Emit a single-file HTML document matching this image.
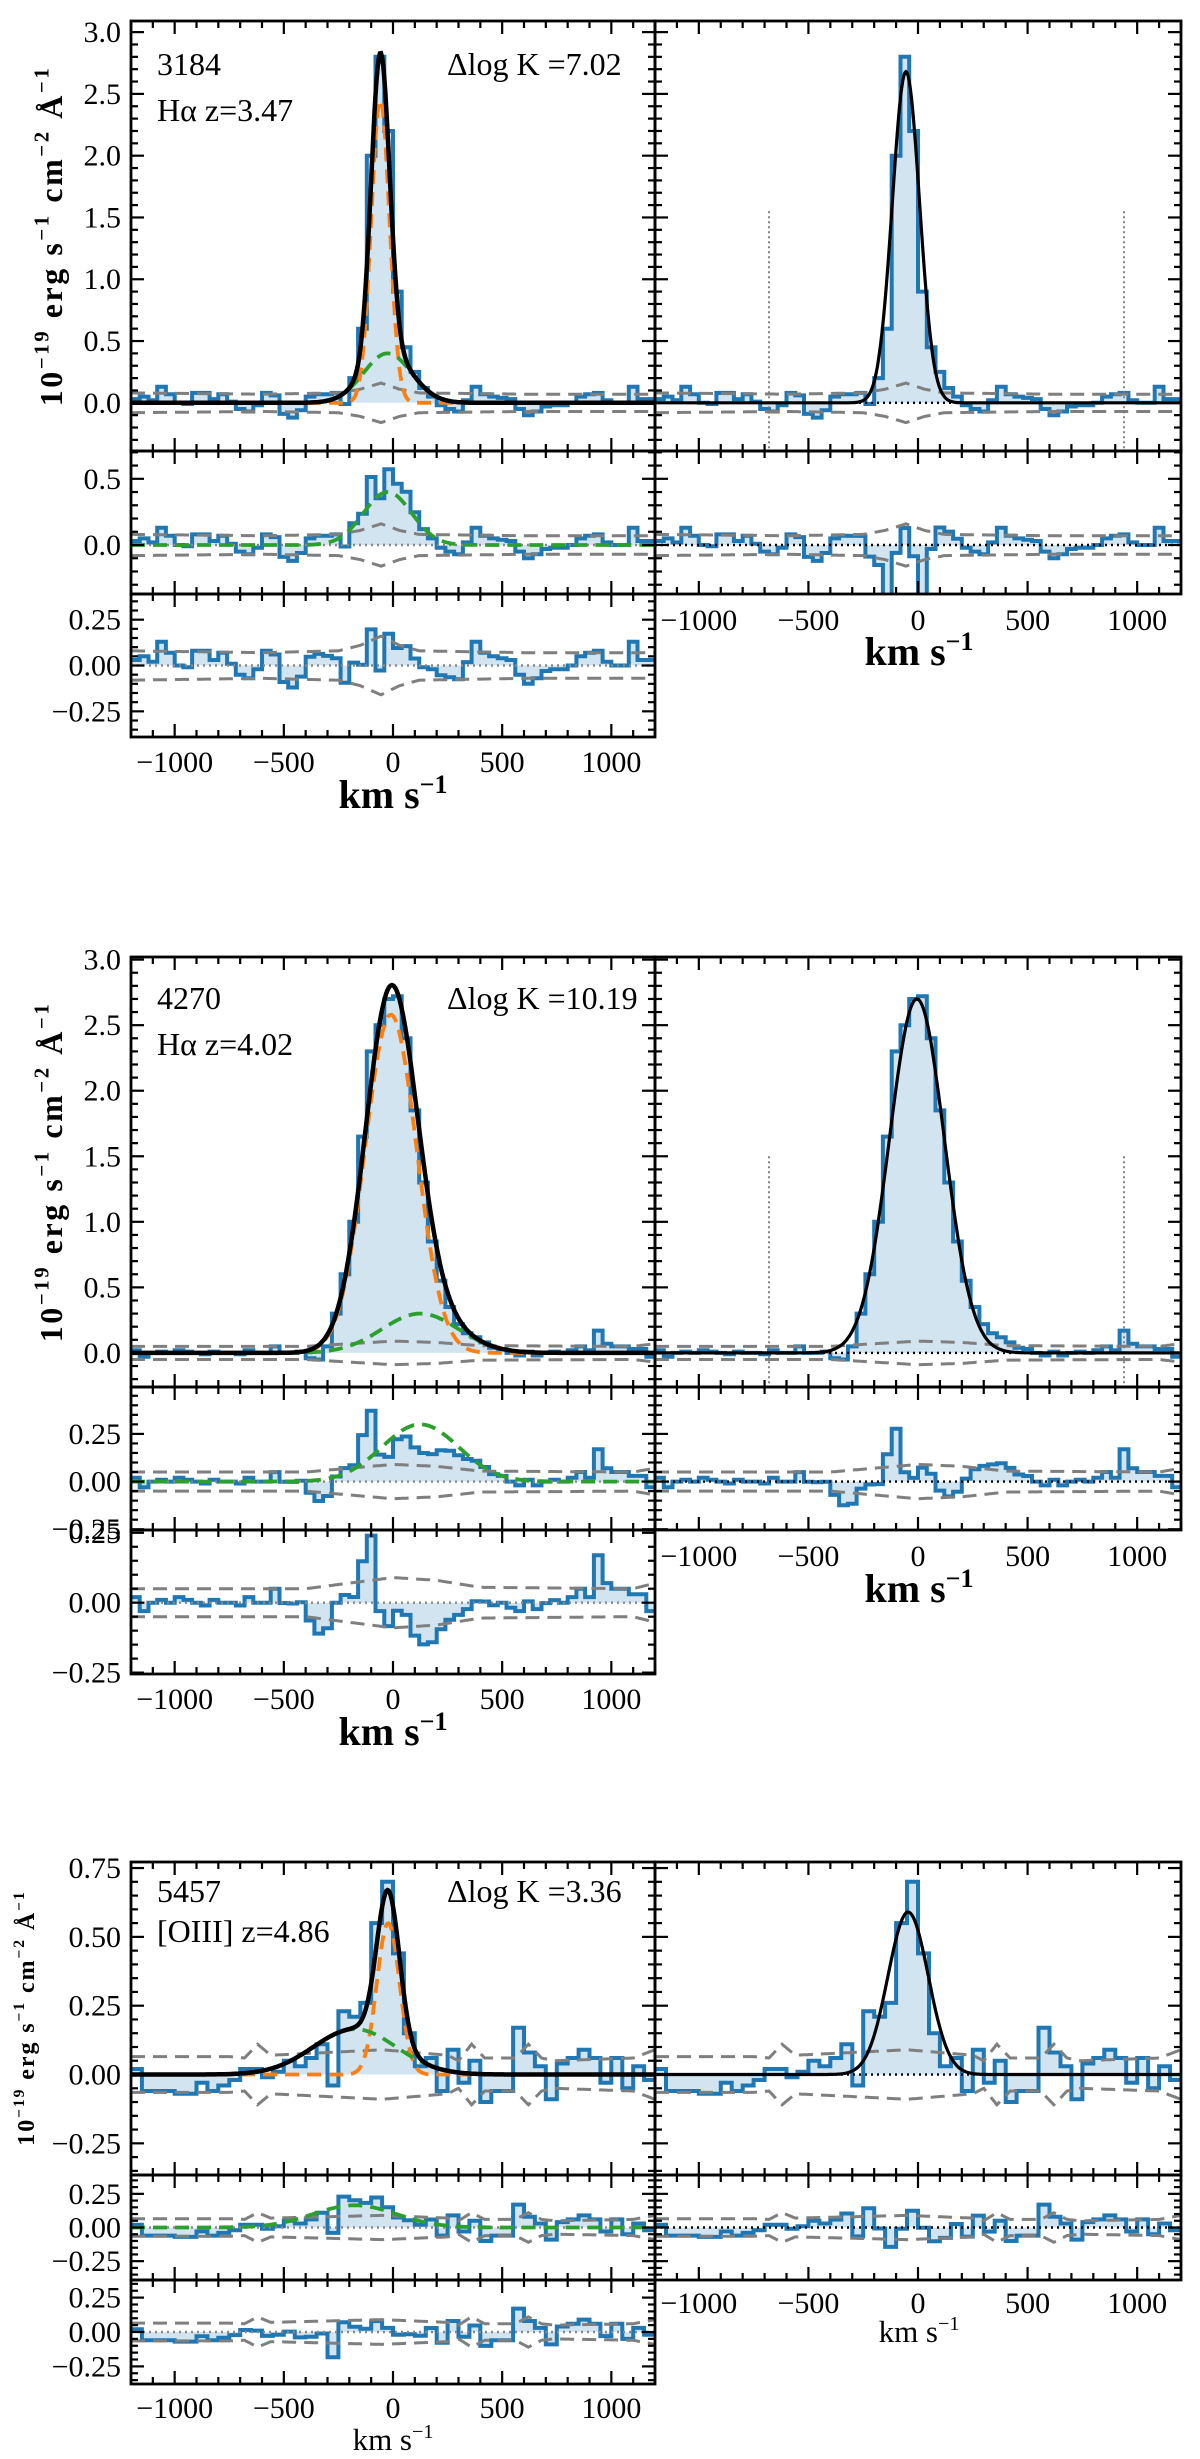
<!DOCTYPE html>
<html><head><meta charset="utf-8">
<style>
html,body{margin:0;padding:0;background:#fff;}
svg{display:block;}
text{font-family:"Liberation Serif","DejaVu Serif",serif;fill:#000;}
</style></head>
<body>
<svg id="fig" width="1200" height="2459" viewBox="0 0 1200 2459" xmlns="http://www.w3.org/2000/svg"></svg>
<script>
// ---------- DATA ----------
const binW1 = 40, binW2 = 40, binW3 = 50;
const flux1 = [0.03,0.05,0.02,0.13,0.07,0.0,-0.01,0.08,0.08,0.03,0.07,0.01,-0.05,-0.07,-0.02,0.08,0.06,-0.09,-0.12,-0.06,0.05,0.07,0.07,0.08,-0.01,
  0.2,0.6,2.0,2.8,2.2,0.9,0.45,0.25,0.12,0.05,-0.02,-0.05,-0.07,0.02,0.13,0.07,0.05,0.04,0.03,-0.05,-0.1,-0.07,-0.03,-0.02,-0.02,0.0,0.05,0.07,0.08,0.02,0.0,0.0,0.13,0.03,0.03];
const flux2 = [0.02,-0.03,0.0,0.01,0.0,0.02,0.01,0.0,-0.01,0.01,0.0,0.0,-0.01,0.02,0.0,0.0,0.05,0.0,0.0,0.01,-0.04,-0.05,
  0.05,0.3,0.6,1.0,1.65,2.3,2.5,2.7,2.72,2.4,1.85,1.3,0.85,0.55,0.35,0.22,0.15,0.12,0.08,0.04,0.03,
  0.0,-0.02,0.01,-0.02,0.0,0.01,0.0,0.02,0.05,0.02,0.17,0.07,0.05,0.05,0.03,0.03,-0.03];
const flux3 = [0.02,-0.06,-0.06,-0.06,-0.07,-0.07,-0.03,-0.06,-0.04,-0.02,0.02,0.02,-0.01,0.01,0.05,0.03,0.06,0.11,-0.04,0.23,0.21,0.26,0.55,0.70,
  0.44,0.15,0.03,0.06,-0.06,0.09,-0.03,0.05,-0.10,-0.06,-0.06,0.17,0.08,0.03,-0.09,0.04,0.06,0.09,0.06,-0.03,0.06,-0.05,0.03,-0.02];
// gaussian component parameters [amplitude, centre km/s, sigma km/s]
const narrow1 = [2.45,-58,42], broad1 = [0.40,-25,110], single1 = [2.68,-55,62];
const narrow2 = [2.58,-10,118], broad2 = [0.30,125,175], single2 = [2.70,-5,125];
const narrow3 = [0.55,-22,52], broad3 = [0.165,-175,190], single3 = [0.59,-45,92];
// 1-sigma noise envelope knots
const errV1 = [-1200,-600,-250,-150,-55,30,120,600,1200];
const errE1 = [0.08,0.07,0.08,0.11,0.16,0.11,0.08,0.07,0.07];
const errV2 = [-1200,-400,-200,0,200,400,1100,1200];
const errE2 = [0.05,0.05,0.07,0.09,0.08,0.055,0.05,0.07];
const errV3 = [-1200,-750,-680,-620,-560,-300,-50,250,300,360,420,560,620,680,740,1100,1200];
const errE3 = [0.065,0.065,0.06,0.11,0.07,0.08,0.09,0.07,0.05,0.11,0.06,0.06,0.11,0.06,0.05,0.06,0.09];
const xTicks = [-1000,-500,0,500,1000];
const xTickLabels = ["\u22121000","\u2212500","0","500","1000"];
const vLines = [-680,940];
// ---------------------------------------------------
const NS="http://www.w3.org/2000/svg";
const svg=document.getElementById('fig');
function el(tag,attrs,parent){const e=document.createElementNS(NS,tag);for(const k in attrs)e.setAttribute(k,attrs[k]);(parent||svg).appendChild(e);return e;}
function gauss(p,v){return p[0]*Math.exp(-0.5*Math.pow((v-p[1])/p[2],2));}
function interp(V,E,v){if(v<=V[0])return E[0];for(let i=1;i<V.length;i++){if(v<=V[i]){const t=(v-V[i-1])/(V[i]-V[i-1]);return E[i-1]+t*(E[i]-E[i-1]);}}return E[E.length-1];}
let clipId=0;
function panel(x0,x1,y0,y1,ymin,ymax){
  const sx=v=>x0+(v+1200)/2400*(x1-x0);
  const sy=f=>y1-(f-ymin)/(ymax-ymin)*(y1-y0);
  clipId++;
  const cp=el('clipPath',{id:'c'+clipId});
  el('rect',{x:x0,y:y0,width:x1-x0,height:y1-y0},cp);
  const g=el('g',{'clip-path':'url(#c'+clipId+')'});
  return {x0,x1,y0,y1,ymin,ymax,sx,sy,g};
}
function hist(P,vals,bw,name){
  let d='';
  const z=P.sy(0);
  vals.forEach((f,i)=>{const a=P.sx(-1200+i*bw),b=P.sx(-1200+(i+1)*bw),y=P.sy(f);
    d+=(i===0?'M':'L')+a.toFixed(1)+','+y.toFixed(1)+'L'+b.toFixed(1)+','+y.toFixed(1);});
  const fill='M'+P.sx(-1200)+','+z+d.replace(/^M/,'L')+'L'+P.sx(-1200+vals.length*bw)+','+z+'Z';
  const f=el('path',{d:fill,fill:'rgba(31,119,180,0.2)',stroke:'none'},P.g);
  
  
  const l=el('path',{d:d,fill:'none',stroke:'#1f77b4','stroke-width':4,'stroke-linejoin':'miter'},P.g);
  
  
}
function curve(P,fn,style,name){
  let d='';for(let v=-1200;v<=1200;v+=5){d+=(v===-1200?'M':'L')+P.sx(v).toFixed(1)+','+P.sy(fn(v)).toFixed(1);}
  const a=Object.assign({d:d,fill:'none'},style);
  const p=el('path',a,P.g);
  
  
}
function errLines(P,V,E,name){
  const st={stroke:'#7f7f7f','stroke-width':3,'stroke-dasharray':'14,8'};
  curve(P,v=>interp(V,E,v),st,name+'-upper');
  curve(P,v=>-interp(V,E,v),st,name+'-lower');
}
function zeroLine(P,color,name){
  const l=el('line',{x1:P.x0,x2:P.x1,y1:P.sy(0),y2:P.sy(0),stroke:color,'stroke-width':2.4,'stroke-dasharray':'2,4'},P.g);
  
  
}
function frame(P,yT,yL,minor,showX,xLabY,name){
  const g=el('g',{});
  
  
  el('rect',{x:P.x0,y:P.y0,width:P.x1-P.x0,height:P.y1-P.y0,fill:'none',stroke:'#000','stroke-width':2.8},g);
  for(let v=-1200;v<=1200;v+=100){
    const maj=v%500===0, L=maj?13:7, x=P.sx(v);
    el('line',{x1:x,x2:x,y1:P.y1,y2:P.y1-L,stroke:'#000','stroke-width':2.2},g);
    el('line',{x1:x,x2:x,y1:P.y0,y2:P.y0+L,stroke:'#000','stroke-width':2.2},g);
  }
  const start=Math.ceil(P.ymin/minor-1e-6);
  for(let k=start;k*minor<=P.ymax+1e-9;k++){
    const f=k*minor, y=P.sy(f);
    const maj=yT.some(t=>Math.abs(t-f)<1e-6), L=maj?13:7;
    el('line',{x1:P.x0,x2:P.x0+L,y1:y,y2:y,stroke:'#000','stroke-width':2.2},g);
    el('line',{x1:P.x1,x2:P.x1-L,y1:y,y2:y,stroke:'#000','stroke-width':2.2},g);
  }
  if(yL){yT.forEach((t,i)=>{const tx=el('text',{x:P.x0-10,y:P.sy(t)+10,'font-size':30,'text-anchor':'end'},g);tx.textContent=yL[i];
    
    });}
  if(showX){xTicks.forEach((t,i)=>{const tx=el('text',{x:P.sx(t),y:xLabY,'font-size':30,'text-anchor':'middle'},g);tx.textContent=xTickLabels[i];
    
    });}
}
function xTitle(x,y,size,bold,name){
  const t=el('text',{x:x,y:y,'font-size':size,'text-anchor':'middle','font-weight':bold?'bold':'normal'});
  t.innerHTML='km s<tspan dy="'+(-size*0.38)+'" font-size="'+(size*0.65)+'">\u22121</tspan>';
  
  
}
function yTitle(x,yc,size,name){
  const t=el('text',{x:0,y:0,'font-size':size,'text-anchor':'middle','font-weight':'bold','letter-spacing':size*0.08,transform:'translate('+x+','+yc+') rotate(-90)'});
  const s=size*0.65,u=-size*0.42;
  t.innerHTML='10<tspan dy="'+u+'" font-size="'+s+'">\u221219</tspan><tspan dy="'+(-u)+'"> erg s</tspan><tspan dy="'+u+'" font-size="'+s+'">\u22121</tspan><tspan dy="'+(-u)+'"> cm</tspan><tspan dy="'+u+'" font-size="'+s+'">\u22122</tspan><tspan dy="'+(-u)+'"> \u00c5</tspan><tspan dy="'+u+'" font-size="'+s+'">\u22121</tspan>';
  
  
}
function label(x,y,txt,name,size){
  const t=el('text',{x:x,y:y,'font-size':size||32});t.textContent=txt;
  
  
}

function block(cfg){
  const {flux,bw,nar,bro,sin,eV,eE,L,M,R,main,mid,bot,vline}=cfg;
  const tot=v=>gauss(nar,v)+gauss(bro,v);
  const binV=i=>-1200+(i+0.5)*bw;
  let P=panel(L,M,main[0],main[1],main[2],main[3]);
  hist(P,flux,bw,'data-histogram-left-'+cfg.id);
  errLines(P,eV,eE,'noise-left-'+cfg.id);
  curve(P,v=>gauss(nar,v),{stroke:'#ff7f0e','stroke-width':3.8,'stroke-dasharray':'14,8'},'narrow-component-'+cfg.id);
  curve(P,v=>gauss(bro,v),{stroke:'#2ca02c','stroke-width':3.8,'stroke-dasharray':'14,8'},'broad-component-'+cfg.id);
  curve(P,tot,{stroke:'#000','stroke-width':4.5},'two-component-fit-'+cfg.id);
  frame(P,main[4],main[5],main[6],false,0,'left-main-axes-'+cfg.id);
  P=panel(M,R,main[0],main[1],main[2],main[3]);
  hist(P,flux,bw,'data-histogram-right-'+cfg.id);
  errLines(P,eV,eE,'noise-right-'+cfg.id);
  if(vline!==null){vLines.forEach(v=>{const l=el('line',{x1:P.sx(v),x2:P.sx(v),y1:P.sy(vline),y2:P.y1,stroke:'#777','stroke-width':1.8,'stroke-dasharray':'2,3'},P.g);
    
    });}
  zeroLine(P,'#000','zero-line-right-'+cfg.id);
  curve(P,v=>gauss(sin,v),{stroke:'#000','stroke-width':3.2},'single-gaussian-fit-'+cfg.id);
  frame(P,main[4],null,main[6],false,0,'right-main-axes-'+cfg.id);
  P=panel(L,M,main[1],mid[0],mid[1],mid[2]);
  hist(P,flux.map((f,i)=>f-gauss(nar,binV(i))),bw,'narrow-subtracted-residual-'+cfg.id);
  errLines(P,eV,eE,'noise-mid-left-'+cfg.id);
  zeroLine(P,'#888','zero-line-mid-left-'+cfg.id);
  curve(P,v=>gauss(bro,v),{stroke:'#2ca02c','stroke-width':3.8,'stroke-dasharray':'14,8'},'broad-component-mid-'+cfg.id);
  frame(P,mid[3],mid[4],mid[5],false,0,'left-mid-axes-'+cfg.id);
  P=panel(M,R,main[1],mid[0],mid[1],mid[2]);
  hist(P,flux.map((f,i)=>f-gauss(sin,binV(i))),bw,'single-fit-residual-'+cfg.id);
  errLines(P,eV,eE,'noise-mid-right-'+cfg.id);
  zeroLine(P,'#000','zero-line-mid-right-'+cfg.id);
  frame(P,mid[3],null,mid[5],true,cfg.rTickY,'right-mid-axes-'+cfg.id);
  P=panel(L,M,mid[0],bot[0],bot[1],bot[2]);
  hist(P,flux.map((f,i)=>f-tot(binV(i))),bw,'two-component-residual-'+cfg.id);
  errLines(P,eV,eE,'noise-bottom-'+cfg.id);
  zeroLine(P,'#888','zero-line-bottom-'+cfg.id);
  frame(P,bot[3],bot[4],bot[5],true,cfg.lTickY,'left-bottom-axes-'+cfg.id);
}
const t3=[-0.25,0,0.25], t3L=["\u22120.25","0.00","0.25"];
const t05=[0,0.5,1,1.5,2,2.5,3], t05L=["0.0","0.5","1.0","1.5","2.0","2.5","3.0"];
const L=131,M=655,R=1181;
block({id:'3184',flux:flux1,bw:binW1,nar:narrow1,bro:broad1,sin:single1,eV:errV1,eE:errE1,L,M,R,vline:1.55,
  main:[21,451,-0.39,3.09,t05,t05L,0.1], mid:[594,-0.37,0.71,[0,0.5],["0.0","0.5"],0.1], bot:[737,-0.39,0.39,t3,t3L,0.05],lTickY:772,rTickY:630});
block({id:'4270',flux:flux2,bw:binW2,nar:narrow2,bro:broad2,sin:single2,eV:errV2,eE:errE2,L,M,R,vline:1.5,
  main:[957,1387,-0.26,3.02,t05,t05L,0.1], mid:[1530,-0.254,0.496,t3,t3L,0.05], bot:[1674,-0.255,0.26,t3,t3L,0.05],lTickY:1709,rTickY:1566});
block({id:'5457',flux:flux3,bw:binW3,nar:narrow3,bro:broad3,sin:single3,eV:errV3,eE:errE3,L,M,R,vline:null,
  main:[1862,2175,-0.365,0.772,[-0.25,0,0.25,0.5,0.75],["\u22120.25","0.00","0.25","0.50","0.75"],0.05], mid:[2280,-0.39,0.39,t3,t3L,0.05], bot:[2384,-0.378,0.378,t3,t3L,0.05],lTickY:2418,rTickY:2313});

yTitle(62,236,32,'y-axis-title-3184');
yTitle(62,1172,32,'y-axis-title-4270');
yTitle(34,2018,24,'y-axis-title-5457');
xTitle(393,808,40,true,'x-axis-title-left-3184');
xTitle(919,665,40,true,'x-axis-title-right-3184');
xTitle(393,1745,40,true,'x-axis-title-left-4270');
xTitle(919,1602,40,true,'x-axis-title-right-4270');
xTitle(393,2450,31,false,'x-axis-title-left-5457');
xTitle(919,2342,31,false,'x-axis-title-right-5457');
label(157,75,'3184','object-id-3184');
label(157,121,'H\u03b1 z=3.47','line-redshift-3184');
label(447,75,'\u0394log K =7.02','delta-logk-3184');
label(157,1009,'4270','object-id-4270');
label(157,1055,'H\u03b1 z=4.02','line-redshift-4270');
label(447,1009,'\u0394log K =10.19','delta-logk-4270');
label(157,1902,'5457','object-id-5457');
label(157,1942,'[OIII] z=4.86','line-redshift-5457');
label(447,1902,'\u0394log K =3.36','delta-logk-5457');
</script>
</body></html>
